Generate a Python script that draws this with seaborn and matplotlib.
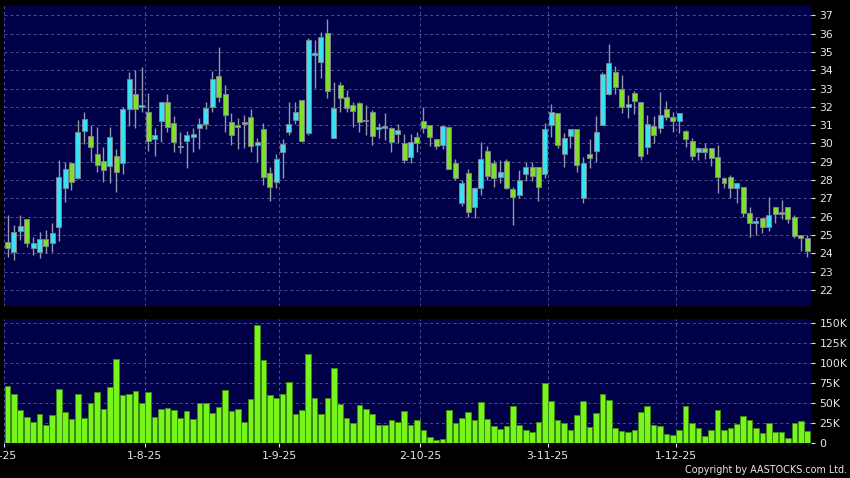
import numpy as np
import pandas as pd
import matplotlib
matplotlib.use("Agg")
import matplotlib.pyplot as plt
import matplotlib.transforms as mtransforms
import seaborn as sns

# ---------------- data ----------------
open_ = [24.6, 24.05, 25.2, 25.9, 24.27, 24.05, 24.79, 24.54, 25.41, 27.54,
         28.91, 28.14, 30.66, 30.42, 29.45, 29.05, 28.76, 29.31, 28.91, 31.86,
         32.68, 32.0, 31.7, 30.26, 31.25, 32.28, 31.1, 29.83, 30.15, 30.33,
         30.86, 31.04, 31.97, 33.7, 32.68, 31.19, 30.99, 31.1, 31.46, 29.92,
         30.77, 28.36, 27.91, 29.55, 30.64, 31.3, 32.35, 30.59, 34.86, 34.43,
         36.01, 30.32, 33.17, 32.52, 32.1, 32.19, 31.25, 31.7, 30.77, 30.92,
         30.86, 30.5, 30.04, 29.25, 30.34, 31.25, 31.03, 30.27, 29.9, 30.88,
         28.92, 26.73, 28.37, 26.55, 27.55, 29.59, 28.95, 28.15, 29.06, 27.49,
         27.18, 28.33, 28.73, 28.73, 28.33, 31.0, 31.69, 29.4, 30.42, 30.77,
         27.0, 29.4, 29.58, 31.0, 32.7, 33.92, 32.95, 31.97, 32.73, 32.24,
         29.78, 30.95, 30.82, 31.91, 31.42, 31.25, 30.68, 30.15, 29.55, 29.74,
         29.74, 29.25, 28.1, 28.15, 27.55, 27.64, 26.22, 25.64, 25.91, 25.46,
         26.51, 26.22, 26.51, 26.0, 24.98, 24.82]
high = [26.09, 25.54, 26.09, 25.9, 24.9, 25.17, 25.26, 25.63, 29.1, 29.0,
        29.0, 31.28, 31.71, 31.0, 30.91, 29.82, 30.88, 29.69, 31.97, 33.92,
        34.0, 34.19, 32.74, 30.86, 32.28, 32.68, 31.5, 30.6, 30.68, 30.82,
        31.37, 32.24, 33.96, 35.28, 33.19, 31.68, 31.37, 31.55, 31.91, 30.31,
        31.1, 28.73, 29.45, 30.24, 32.28, 32.24, 32.35, 35.74, 35.65, 36.07,
        36.8, 33.34, 33.38, 32.92, 32.28, 32.28, 32.1, 31.83, 31.1, 31.68,
        30.92, 31.04, 30.5, 30.5, 30.65, 32.01, 31.03, 30.27, 30.96, 30.88,
        29.14, 28.0, 28.59, 27.64, 30.06, 29.88, 29.1, 29.1, 29.13, 27.6,
        28.55, 29.0, 29.0, 28.73, 31.1, 32.15, 31.69, 30.59, 30.79, 30.77,
        29.27, 30.22, 31.5, 33.92, 35.43, 34.23, 33.73, 32.64, 32.86, 32.24,
        31.58, 31.49, 32.82, 32.33, 31.7, 31.65, 30.74, 30.28, 29.83, 30.0,
        29.74, 29.92, 28.15, 28.28, 27.82, 27.64, 26.51, 25.96, 25.91, 27.05,
        26.51, 26.89, 26.51, 26.09, 24.98, 25.0]
low = [23.81, 23.66, 24.7, 24.36, 23.9, 23.72, 23.99, 24.08, 24.68, 26.81,
       27.45, 28.04, 29.95, 28.98, 28.45, 27.91, 27.85, 27.37, 28.33, 30.95,
       30.82, 31.73, 29.6, 29.33, 30.06, 30.64, 29.55, 29.49, 28.67, 29.55,
       29.7, 30.79, 31.73, 32.28, 30.64, 29.92, 29.7, 29.74, 29.55, 29.0,
       27.73, 26.86, 27.58, 28.09, 30.46, 31.04, 30.06, 30.46, 33.05, 33.56,
       32.5, 30.28, 31.7, 31.7, 30.91, 30.64, 30.46, 29.92, 30.28, 30.19,
       29.55, 30.0, 28.91, 28.92, 29.56, 30.59, 29.88, 29.68, 29.68, 28.59,
       28.0, 26.59, 25.96, 25.91, 27.18, 28.0, 27.64, 27.82, 27.49, 25.54,
       27.0, 27.97, 27.97, 26.87, 28.1, 30.33, 29.73, 28.73, 29.73, 28.45,
       26.72, 28.64, 29.0, 31.0, 32.64, 32.7, 31.64, 31.37, 31.6, 29.09,
       29.42, 30.0, 30.55, 31.28, 30.64, 30.59, 29.79, 29.1, 29.1, 29.13,
       28.77, 27.28, 27.55, 27.0, 26.77, 25.96, 24.87, 25.0, 25.13, 25.24,
       25.64, 25.86, 25.67, 24.82, 24.15, 23.82]
close = [24.27, 25.14, 25.47, 24.54, 24.54, 24.77, 24.39, 25.12, 28.18, 28.58,
         27.91, 30.6, 31.31, 29.78, 28.82, 28.55, 30.37, 28.42, 31.86, 33.5,
         31.86, 32.08, 30.15, 30.44, 32.28, 30.92, 30.06, 29.83, 30.44, 30.5,
         31.04, 31.92, 33.5, 32.52, 31.55, 30.46, 30.9, 31.1, 29.87, 30.09,
         28.18, 27.64, 29.14, 29.96, 31.06, 31.73, 30.15, 35.65, 34.95, 35.83,
         32.88, 31.92, 32.5, 31.95, 31.79, 31.15, 31.25, 30.42, 30.88, 30.92,
         30.06, 30.71, 29.09, 30.1, 30.0, 30.83, 30.37, 29.88, 30.96, 28.59,
         28.1, 27.82, 26.27, 27.55, 29.13, 28.24, 28.1, 28.46, 27.55, 27.09,
         28.0, 28.69, 28.24, 27.64, 30.77, 31.73, 29.91, 30.28, 30.79, 28.82,
         28.95, 29.18, 30.64, 33.77, 34.37, 33.06, 31.97, 32.13, 32.33, 29.33,
         31.09, 30.46, 31.55, 31.42, 31.24, 31.65, 30.23, 29.32, 29.74, 29.55,
         29.19, 28.15, 27.86, 27.55, 27.82, 26.22, 25.64, 25.78, 25.42, 26.11,
         26.15, 26.22, 25.86, 24.95, 24.82, 24.15]
volume_k = [71.7, 61.3, 41.7, 32.9, 26.3, 36.7, 22.9, 35.4, 67.5, 39.2,
            30.0, 60.8, 31.3, 50.4, 63.8, 42.5, 69.6, 105.0, 60.4, 61.3,
            64.6, 50.4, 63.8, 32.9, 42.5, 43.3, 41.7, 31.7, 39.6, 29.6,
            49.6, 50.4, 37.5, 45.4, 66.3, 40.4, 42.1, 26.7, 55.4, 148.0,
            103.8, 60.4, 56.3, 61.3, 76.3, 36.7, 40.8, 111.3, 56.7, 35.8,
            55.8, 94.2, 49.2, 31.3, 25.4, 47.5, 42.9, 36.7, 22.9, 22.9,
            29.2, 26.3, 39.6, 22.1, 29.2, 16.3, 7.9, 4.2, 5.4, 41.7,
            24.6, 30.8, 38.8, 28.3, 51.7, 30.4, 21.7, 17.9, 21.3, 45.8,
            22.1, 16.7, 13.3, 26.7, 75.4, 52.9, 29.2, 24.6, 16.7, 35.4,
            52.1, 20.0, 37.1, 61.7, 54.2, 18.8, 15.0, 14.2, 16.7, 38.3,
            45.8, 22.9, 21.3, 11.7, 10.0, 15.8, 46.3, 25.4, 19.2, 9.2,
            16.7, 41.7, 15.8, 18.3, 24.2, 34.2, 29.2, 18.8, 12.5, 25.4,
            13.8, 13.3, 6.7, 24.6, 27.9, 15.0]
date_labels = ["2-7-25", "1-8-25", "1-9-25", "2-10-25", "3-11-25", "1-12-25"]
date_index = [-1, 21, 42, 64, 84, 104]
price_ticks = list(range(22, 38))
vol_ticks_k = [0, 25, 50, 75, 100, 125, 150]

# ---------------- styling ----------------
sns.set_theme(style="dark")
plt.rcParams['font.family'] = ['DejaVu Sans']

BG = '#000000'
PANEL = '#000048'
GRID = '#4a5590'
UP = '#38e2f0'
DOWN = '#7ee02a'
DOJI = '#9aa0b4'
WICK = '#9298aa'
EDGE = '#7a8090'
TXT = '#e6e6e6'

n = len(close)
df = pd.DataFrame({
    'idx': np.arange(n), 'open': open_, 'high': high, 'low': low,
    'close': close, 'volume': np.array(volume_k) * 1000.0,
})

W, H = 850, 478
fig = plt.figure(figsize=(W / 100, H / 100), dpi=100, facecolor=BG)
ax = fig.add_axes([4 / W, 1 - 306 / H, 807 / W, 300 / H])
axv = fig.add_axes([4 / W, 1 - 443 / H, 807 / W, 124 / H])

xlim = (-0.55, 125.6)
grid_x = [i + 0.45 for i in date_index]
grid_kw = dict(color=GRID, linestyle=(0, (3, 3)), linewidth=0.7)

# ---------------- price panel ----------------
ax.set_facecolor(PANEL)
o = df['open'].to_numpy(); c = df['close'].to_numpy()
diff = c - o
colors = np.where(np.abs(diff) < 0.005, DOJI, np.where(diff > 0, UP, DOWN))
bottoms = np.minimum(o, c)
heights = np.maximum(np.abs(diff), 0.1)
bottoms = np.where(np.abs(diff) < 0.1, (o + c) / 2 - 0.05, bottoms)
ax.vlines(df['idx'], df['low'], df['high'], color=WICK, linewidth=1.0, zorder=2)
ax.bar(df['idx'], heights, bottom=bottoms, width=0.78, color=colors,
       edgecolor=EDGE, linewidth=0.7, zorder=3)
ax.set_xlim(*xlim)
ax.set_ylim(21.12, 37.51)
ax.set_yticks(price_ticks)
ax.set_yticklabels([str(t) for t in price_ticks])
ax.yaxis.tick_right()
ax.set_xticks(grid_x)
ax.set_xticklabels([])
ax.tick_params(axis='x', length=0)
ax.tick_params(axis='y', length=3, width=0.8, color=TXT, labelcolor=TXT,
               labelsize=7.8, pad=3, right=True, left=False)
ax.grid(True, **grid_kw)
ax.set_axisbelow(True)
for s in ax.spines.values():
    s.set_visible(False)
ax.set_xlabel(''); ax.set_ylabel('')

# ---------------- volume panel ----------------
axv.set_facecolor(PANEL)
sns.barplot(data=df, x='idx', y='volume', ax=axv, native_scale=True,
            color='#78f51c', saturation=1, width=0.88,
            edgecolor='#3f8a10', linewidth=0.7, zorder=3)
axv.set_xlim(*xlim)
axv.set_ylim(0, 155400)
axv.set_yticks([k * 1000 for k in vol_ticks_k])
axv.set_yticklabels(['0' if k == 0 else f'{k}K' for k in vol_ticks_k])
axv.yaxis.tick_right()
axv.set_xticks(grid_x)
axv.set_xticklabels([''] + date_labels[1:])
axv.tick_params(axis='y', length=3, width=0.8, color=TXT, labelcolor=TXT,
                labelsize=7.8, pad=3, right=True, left=False)
axv.tick_params(axis='x', length=3, width=0.8, color=TXT, labelcolor=TXT,
                labelsize=7.8, pad=3, bottom=True)
axv.grid(True, **grid_kw)
axv.set_axisbelow(True)
for s in axv.spines.values():
    s.set_visible(False)
axv.set_xlabel(''); axv.set_ylabel('')

# first date label, partly outside the figure as in the reference
trans = mtransforms.blended_transform_factory(axv.transData, axv.transAxes)
axv.text(grid_x[0] - 0.85, -0.065, date_labels[0], transform=trans,
         ha='center', va='top', fontsize=7.8, color=TXT, clip_on=False)

fig.text(847 / W, 1 - 470 / H, 'Copyright by AASTOCKS.com Ltd.', color=TXT,
         fontsize=6.9, ha='right', va='center')

fig.savefig('out.png', dpi=100, facecolor=BG)
